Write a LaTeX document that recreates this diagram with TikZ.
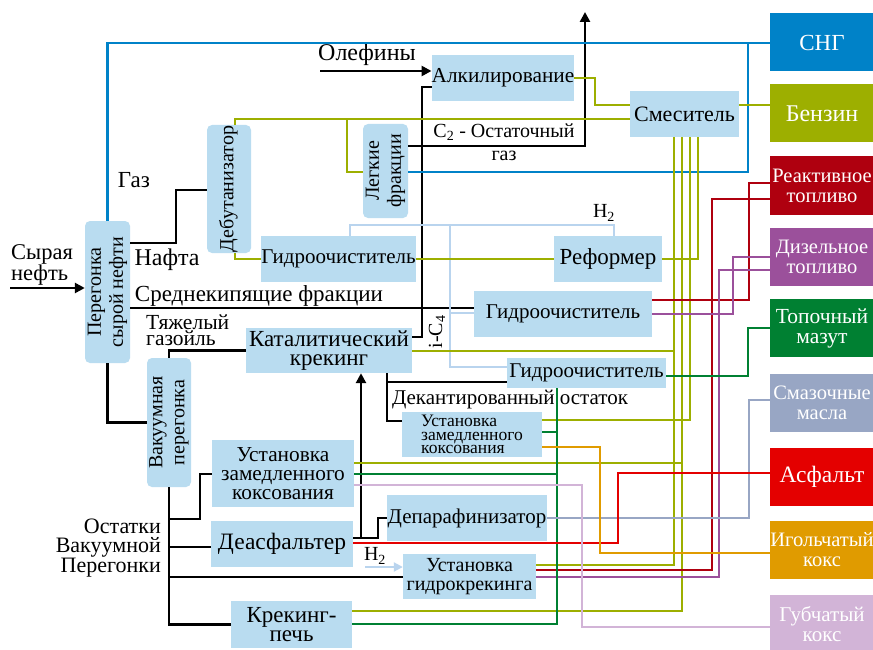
\documentclass[tikz,border=0pt]{standalone}
\usepackage{fontspec}
\setmainfont{Liberation Serif}
\usetikzlibrary{arrows.meta,positioning,calc}

\definecolor{unitfill}{HTML}{B9DCF0}
\definecolor{sngblue}{HTML}{0082C8}
\definecolor{benzgreen}{HTML}{9DAF00}
\definecolor{jetred}{HTML}{AF000F}
\definecolor{dieselviolet}{HTML}{9B509B}
\definecolor{fuelgreen}{HTML}{008032}
\definecolor{lubegray}{HTML}{98A6C4}
\definecolor{asphred}{HTML}{E40000}
\definecolor{needleorange}{HTML}{E09B00}
\definecolor{spongelilac}{HTML}{D2B4D7}
\definecolor{hydrogen}{HTML}{B9D4EE}

\newcommand{\vlabel}[1]{\rotatebox{90}{\begin{tabular}{@{}c@{}}#1\end{tabular}}}
\newcommand{\fsz}[2]{\fontsize{#1}{#2}\selectfont}

\tikzset{
  wh/.style 2 args={minimum width=#1pt, minimum height=#2pt},
  unit/.style={fill=unitfill, inner sep=0pt, align=center, font=\fsz{22}{19}},
  vunit/.style={unit, rounded corners=5pt, font=\fsz{20}{22}},
  product/.style={fill=#1, text=white, inner sep=0pt, minimum width=104pt, minimum height=58pt,
    align=center, font=\fsz{20.5}{20}},
  txt/.style={inner sep=0pt, font=\fsz{22}{20}},
  pipe/.style={line width=2.6pt},
  cpipe/.style={line width=2.3pt, draw=#1},
  h2pipe/.style={line width=2pt, draw=hydrogen},
  flowarrow/.style={pipe, -{Triangle[length=10pt,width=10pt]}},
}

\begin{document}
\begin{tikzpicture}[x=1pt, y=-1pt]
  \path[fill=white] (0,0) rectangle (873,650);
  \useasboundingbox (0,0) rectangle (873,650);

  % process units
  \node[vunit, wh={45}{142}] (per) at (107.5,292) {\vlabel{Перегонка\\сырой нефти}};
  \node[vunit, wh={44}{128}] (deb) at (229,189) {\vlabel{Дебутанизатор}};
  \node[vunit, wh={45}{94}] (leg) at (385.5,171) {\vlabel{Легкие\\фракции}};
  \node[vunit, wh={44}{129}] (vak) at (169,422.5) {\vlabel{Вакуумная\\перегонка}};
  \node[unit, wh={142}{46}, font=\fsz{21.3}{19}] (alk) at (503,78) {Алкилирование};
  \node[unit, wh={109}{46}] (mix) at (684.5,114) {Смеситель};
  \node[unit, wh={155}{46}, font=\fsz{21}{19}] (hyd1) at (338.5,259) {Гидроочиститель};
  \node[unit, wh={108}{46}, font=\fsz{23}{19}] (ref) at (608,259) {Реформер};
  \node[unit, wh={178}{46}, font=\fsz{21}{19}] (hyd2) at (563,314) {Гидроочиститель};
  \node[unit, wh={166}{45}, font=\fsz{23}{19}] (fcc) at (329,350.5) {Каталитический\\крекинг};
  \node[unit, wh={159}{30}, font=\fsz{21}{19}] (hyd3) at (586.5,373) {Гидроочиститель};
  \node[unit, wh={140}{45}, align=left, font=\fsz{17.5}{13.5}] (cok1) at (472,434.5) {Установка\\замедленного\\коксования};
  \node[unit, wh={142}{67}, font=\fsz{21.3}{19}] (cok2) at (283,473.5) {Установка\\замедленного\\коксования};
  \node[unit, wh={142}{46}, font=\fsz{23.5}{19}] (dea) at (282,544) {Деасфальтер};
  \node[unit, wh={160}{46}, font=\fsz{21}{19}] (dew) at (467,518) {Депарафинизатор};
  \node[unit, wh={133}{45}, font=\fsz{20}{19}] (hcr) at (469.5,576.5) {Установка\\гидрокрекинга};
  \node[unit, wh={121}{47}, font=\fsz{23}{18.5}] (fur) at (291.5,624.5) {Крекинг-\\печь};

  % products
  \node[product=sngblue, font=\fsz{23}{20}] (sng) at (822,42.5) {СНГ};
  \node[product=benzgreen, font=\fsz{24}{20}] (gasoline) at (822,113.5) {Бензин};
  \node[product=jetred] (jet) at (822,185.5) {Реактивное\\топливо};
  \node[product=dieselviolet] (diesel) at (822,256.5) {Дизельное\\топливо};
  \node[product=fuelgreen, font=\fsz{21.5}{20}] (fueloil) at (822,328) {Топочный\\мазут};
  \node[product=lubegray] (lube) at (822,402.5) {Смазочные\\масла};
  \node[product=asphred, font=\fsz{23.5}{20}] (asph) at (822,476.5) {Асфальт};
  \node[product=needleorange] (needle) at (822,550) {Игольчатый\\кокс};
  \node[product=spongelilac, font=\fsz{21}{20}] (sponge) at (822,624) {Губчатый\\кокс};

  % labels
  \node[txt, align=left, anchor=west, font=\fsz{22.5}{19}] (crudelbl) at (11,265) {Сырая\\нефть};
  \node[txt, font=\fsz{23}{20}] (gaslbl) at (134,180) {Газ};
  \node[txt, font=\fsz{24}{20}] (naphtha) at (167,260) {Нафта};
  \node[txt, font=\fsz{23}{20}] (middist) at (259,296) {Среднекипящие фракции};
  \node[txt, align=left, anchor=west, font=\fsz{21.5}{16}] (hgo) at (146,330) {Тяжелый\\газойль};
  \node[txt, font=\fsz{24}{20}] (olefins) at (367,55) {Олефины};
  \node[txt, align=center, font=\fsz{20}{23}] (c2gas) at (504,142) {C\textsubscript{2} - Остаточный\\газ};
  \node[txt, rotate=90, font=\fsz{20}{20}] (ic4) at (437,332) {i-C\textsubscript{4}};
  \node[txt, font=\fsz{20}{20}] (h2ref) at (604,213) {H\textsubscript{2}};
  \node[txt, font=\fsz{21}{20}] (decant) at (510,400) {Декантированный остаток};
  \node[txt, align=right, anchor=east, font=\fsz{22}{18.5}] (vres) at (161,548) {Остатки\\Вакуумной\\Перегонки};
  \node[txt, font=\fsz{20}{20}] (h2hcr) at (375,556) {H\textsubscript{2}};

  % black streams
  \coordinate (crude) at (10,288);
  \coordinate (olef) at (320,71);
  \draw[flowarrow] (crude) -- (per.west |- crude);
  \draw[pipe] (per.east |- 0,243) -| (176,190) -- (deb.west |- 0,190);
  \draw[pipe] (per.east |- 0,308) -- (hyd2.west |- 0,308);
  \draw[pipe] (per.south) |- (vak.west);
  \draw[pipe] (vak.north) |- (fcc.west);
  \draw[pipe] (vak.south) |- (fur.west);
  \draw[pipe] (vak.south |- 0,519) -| (200,474) -- (cok2.west |- 0,474);
  \draw[pipe] (vak.south |- 0,547) -- (dea.west |- 0,547);
  \draw[pipe] (vak.south |- 0,577) -- (hcr.west |- 0,577);
  \draw[pipe] (dea.east |- 0,538) -| (378,518) -- (dew.west |- 0,518);
  \draw[flowarrow] (361,538) -- (fcc.south -| 361,0);
  \draw[pipe] (fcc.south -| 387,0) |- (cok1.west |- 0,421);
  \draw[pipe] (387,382) -- (hyd3.west |- 0,382);
  \draw[pipe] (fcc.east |- 0,337) -| (422,87) -- (alk.west |- 0,87);
  \draw[flowarrow] (olef) -- (alk.west |- olef);
  \draw[flowarrow] (leg.east |- 0,146) -| (585,12);

  % LPG
  \draw[cpipe=sngblue] (per.north) |- (sng.west |- 0,43);
  \draw[cpipe=sngblue] (leg.east |- 0,172) -| (748,43);

  % hydrogen
  \draw[h2pipe] (ref.north -| 614,0) |- (350,225) -- (hyd1.north -| 350,0);
  \draw[h2pipe] (450,225) |- (hyd3.west |- 0,367);
  \draw[h2pipe] (450,313) -- (hyd2.west |- 0,313);
  \draw[h2pipe, -{Triangle[length=9pt,width=9pt]}] (365,567) -- (hcr.west |- 0,567);

  % gasoline pool
  \draw[cpipe=benzgreen] (deb.north -| 235,0) |- (mix.west |- 0,119);
  \draw[cpipe=benzgreen] (347,119) |- (leg.west |- 0,172);
  \draw[cpipe=benzgreen] (alk.east) -| (595,105) -- (mix.west |- 0,105);
  \draw[cpipe=benzgreen] (mix.east |- 0,105) -- (gasoline.west |- 0,105);
  \draw[cpipe=benzgreen] (deb.south -| 235,0) |- (hyd1.west);
  \draw[cpipe=benzgreen] (hyd1.east) -- (ref.west);
  \draw[cpipe=benzgreen] (ref.east) -| (mix.south -| 698,0);
  \draw[cpipe=benzgreen] (mix.south -| 690,0) |- (cok1.east |- 0,420);
  \draw[cpipe=benzgreen] (mix.south -| 682,0) |- (fur.east |- 0,611);
  \draw[cpipe=benzgreen] (cok2.east |- 0,463) -- (682,463);
  \draw[cpipe=benzgreen] (mix.south -| 674,0) |- (hcr.east |- 0,565);
  \draw[cpipe=benzgreen] (fcc.east |- 0,351) -- (674,351);

  % jet fuel and diesel
  \draw[cpipe=jetred] (hyd2.east |- 0,300) -| (749,183) -- (jet.west |- 0,183);
  \draw[cpipe=jetred] (hcr.east |- 0,570) -| (712,199) -- (jet.west |- 0,199);
  \draw[cpipe=dieselviolet] (hyd2.east) -| (733,257) -- (diesel.west |- 0,257);
  \draw[cpipe=dieselviolet] (hcr.east |- 0,577) -| (719,270) -- (diesel.west |- 0,270);

  % fuel oil
  \draw[cpipe=fuelgreen] (hyd3.east |- 0,376) -| (748,328) -- (fueloil.west);
  \draw[cpipe=fuelgreen] (hyd3.south -| 557,0) |- (fur.east |- 0,624);
  \draw[cpipe=fuelgreen] (cok1.east |- 0,432) -- (557,432);
  \draw[cpipe=fuelgreen] (cok2.east |- 0,474) -- (557,474);

  % lube oil, asphalt, coke
  \draw[cpipe=lubegray] (dew.east) -| (749,400) -- (lube.west |- 0,400);
  \draw[cpipe=asphred] (dea.east |- 0,543) -| (618,473) -- (asph.west |- 0,473);
  \draw[cpipe=needleorange] (cok1.east |- 0,447) -| (600,553) -- (needle.west |- 0,553);
  \draw[cpipe=spongelilac] (cok2.east |- 0,485) -| (582,627) -- (sponge.west |- 0,627);
\end{tikzpicture}
\end{document}
